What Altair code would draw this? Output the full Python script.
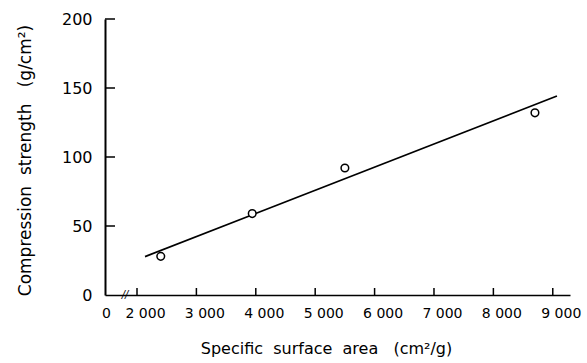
import altair as alt
import pandas as pd

# Data
pts_x = [2400, 3940, 5500, 8700]
pts_y = [28, 59, 92, 132]
fit_x = [2135, 9070]
fit_y = [27.8, 144.2]
x_tick_vals = [0, 2000, 3000, 4000, 5000, 6000, 7000, 8000, 9000]
y_tick_vals = [0, 50, 100, 150, 200]
break_x = [1250]
break_y = [0]

W, H = 465, 276
FONT = "DejaVu Sans"
NB = "\u00a0"

xscale = alt.Scale(domain=[0, 2000, 9290], range=[0, 32, W], nice=False, zero=False)
yscale = alt.Scale(domain=[0, 200], nice=False)

xaxis = alt.Axis(
    title=f"Specific{NB}{NB}surface{NB}{NB}area{NB}{NB}{NB}(cm²/g)",
    values=x_tick_vals, ticks=False, grid=False,
    domainColor="black", domainWidth=1.6,
    labelOverlap=False, labelBound=False, labelFlush=False,
    labelExpr="replace(format(datum.value, ','), ',', '\u00a0')",
    labelFont=FONT, labelFontSize=14, labelColor="black", labelPadding=11,
    labelOffset={"condition": {"test": "datum.value == 0", "value": 1}, "value": 8},
    titleFont=FONT, titleFontSize=16, titleFontWeight="normal", titleColor="black",
    titleX=221, titleY=53, titleBaseline="middle", titleAlign="center",
)
yaxis = alt.Axis(
    title=f"Compression{NB}{NB}strength{NB}{NB}{NB}(g/cm²)",
    values=y_tick_vals, ticks=False, grid=False,
    domainColor="black", domainWidth=2,
    labelOverlap=False, labelFlush=False,
    labelFont=FONT, labelFontSize=16, labelColor="black", labelPadding=13,
    titleFont=FONT, titleFontSize=17, titleFontWeight="normal", titleColor="black",
    titleX=-80, titleY=141, titleAngle=-90, titleBaseline="middle", titleAlign="center",
)

pts = pd.DataFrame({"x": pts_x, "y": pts_y})
fit = pd.DataFrame({"x": fit_x, "y": fit_y})
xt = pd.DataFrame({"x": [v for v in x_tick_vals if v > 0]})
yt = pd.DataFrame({"y": [v for v in y_tick_vals if v > 0]})
brk = pd.DataFrame({"x": break_x, "y": break_y, "t": ["//"]})

X = alt.X("x:Q", scale=xscale, axis=xaxis)
Y = alt.Y("y:Q", scale=yscale, axis=yaxis)

line = alt.Chart(fit).mark_line(color="black", strokeWidth=1.7).encode(x=X, y=Y)

points = alt.Chart(pts).mark_point(shape="circle", filled=False, fill="white",
                                   color="black", size=58, strokeWidth=1.5, opacity=1).encode(x=X, y=Y)

yticks = alt.Chart(yt).mark_rule(color="black", strokeWidth=1.5).encode(
    y=Y, x=alt.value(0), x2=alt.value(10),
)

xticks = alt.Chart(xt).mark_rule(color="black", strokeWidth=1.5).encode(
    x=X, y=alt.value(H), y2=alt.value(H - 7),
)

brk_mark = alt.Chart(brk).mark_text(font=FONT, fontSize=10, fontStyle="italic",
                                    color="black", baseline="middle").encode(
    x=X, y=Y, text="t:N",
)

chart = alt.layer(line, points, yticks, xticks, brk_mark).properties(
    width=W, height=H,
    autosize=alt.AutoSizeParams(type="none"),
    padding={"left": 105, "top": 19, "right": 17, "bottom": 68},
    background="white",
).configure_view(stroke=None)

chart.save("out.html", embed_options={"renderer": "svg", "actions": False})
